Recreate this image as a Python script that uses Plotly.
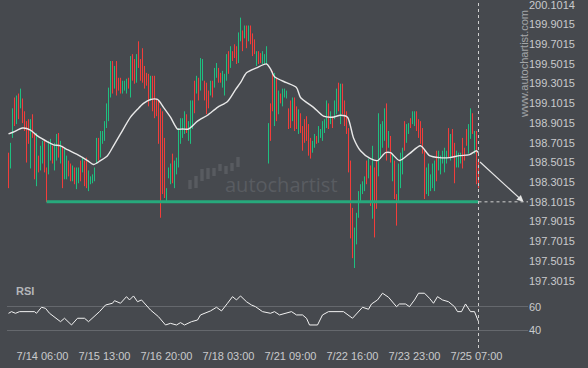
import plotly.graph_objects as go

# ---------------- data ----------------
tick_idx = [17, 48, 79, 110, 141, 172, 203, 234]
tick_labels = ["7/14 06:00", "7/15 13:00", "7/16 20:00", "7/18 03:00",
               "7/21 09:00", "7/22 16:00", "7/23 23:00", "7/25 07:00"]

price_ticks = [200.1014, 199.9015, 199.7015, 199.5015, 199.3015, 199.1015,
               198.9015, 198.7015, 198.5015, 198.3015, 198.1015, 197.9015,
               197.7015, 197.5015, 197.3015]
price_labels = ["200.1014", "199.9015", "199.7015", "199.5015", "199.3015",
                "199.1015", "198.9015", "198.7015", "198.5015", "198.3015",
                "198.1015", "197.9015", "197.7015", "197.5015", "197.3015"]

highs = [
    198.60, 198.70, 199.05, 199.16, 199.18, 199.20, 199.25, 199.15, 199.02, 198.92,
    198.94, 198.94, 198.99, 198.80, 198.80, 198.57, 198.67, 198.72, 198.72, 198.45,
    198.72, 198.74, 198.67, 198.70, 198.79, 198.80, 198.72, 198.67, 198.64, 198.57,
    198.52, 198.49, 198.47, 198.45, 198.45, 198.45, 198.52, 198.55, 198.52, 198.55,
    198.42, 198.36, 198.38, 198.45, 198.75, 198.75, 198.82, 198.82, 198.92, 199.10,
    199.26, 199.53, 199.53, 199.48, 199.53, 199.36, 199.36, 199.33, 199.33, 199.35,
    199.36, 199.58, 199.60, 199.55, 199.60, 199.73, 199.55, 199.66, 199.48, 199.41,
    199.40, 199.38, 199.38, 199.38, 199.15, 199.13, 199.05, 199.02, 198.75, 198.24,
    198.45, 198.49, 198.59, 198.52, 198.55, 198.85, 198.95, 198.95, 199.02, 198.99,
    198.92, 199.13, 199.13, 199.33, 199.38, 199.36, 199.56, 199.55, 199.33, 199.31,
    199.23, 199.33, 199.33, 199.46, 199.51, 199.46, 199.41, 199.43, 199.40, 199.60,
    199.63, 199.68, 199.63, 199.70, 199.68, 199.82, 199.97, 199.84, 199.89, 199.89,
    199.89, 199.89, 199.81, 199.75, 199.63, 199.63, 199.61, 199.63, 199.60, 199.68,
    198.90, 199.10, 199.43, 199.41, 199.36, 199.23, 199.20, 199.25, 199.25, 199.23,
    199.05, 199.13, 199.16, 199.16, 199.07, 199.04, 199.00, 198.87, 198.94, 198.97,
    198.89, 198.75, 198.72, 198.79, 198.77, 198.87, 198.84, 198.92, 198.94, 199.13,
    199.10, 199.02, 198.97, 199.13, 199.25, 199.31, 199.30, 199.30, 199.13, 199.02,
    198.85, 198.52, 198.04, 197.84, 197.99, 198.21, 198.28, 198.31, 198.36, 198.52,
    198.54, 198.47, 198.67, 198.45, 198.52, 199.00, 198.89, 198.92, 199.05, 199.10,
    198.82, 198.77, 198.59, 198.52, 198.18, 198.49, 198.60, 198.65, 198.92, 198.89,
    198.90, 198.95, 199.02, 199.02, 199.02, 198.94, 198.92, 198.85, 198.62, 198.45,
    198.49, 198.38, 198.49, 198.52, 198.62, 198.62, 198.57, 198.62, 198.65, 198.62,
    198.85, 198.79, 198.84, 198.70, 198.62, 198.60, 198.60, 198.75, 198.65, 198.84,
    198.89, 199.05, 199.00, 198.82, 198.82, 198.54]

lows = [
    198.24, 198.44, 198.75, 198.87, 198.89, 198.94, 199.05, 198.90, 198.82, 198.50,
    198.69, 198.44, 198.75, 198.33, 198.26, 198.40, 198.42, 198.49, 198.40, 198.10,
    198.38, 198.52, 198.49, 198.42, 198.52, 198.55, 198.49, 198.24, 198.33, 198.33,
    198.36, 198.31, 198.31, 198.28, 198.23, 198.29, 198.31, 198.40, 198.26, 198.24,
    198.21, 198.28, 198.29, 198.31, 198.49, 198.52, 198.55, 198.69, 198.72, 198.85,
    198.92, 199.16, 199.20, 199.25, 199.18, 199.23, 199.20, 199.20, 199.23, 199.20,
    199.25, 199.16, 199.33, 199.30, 199.31, 199.46, 199.33, 199.31, 199.25, 199.28,
    199.07, 199.13, 199.02, 198.95, 198.97, 198.69, 197.94, 198.18, 198.14, 198.11,
    198.34, 198.28, 198.29, 198.24, 198.38, 198.45, 198.69, 198.75, 198.79, 198.80,
    198.72, 198.69, 198.84, 199.00, 199.20, 199.13, 199.23, 199.33, 199.13, 198.99,
    199.05, 199.18, 199.16, 199.26, 199.36, 199.31, 199.31, 199.26, 199.18, 199.33,
    199.40, 199.46, 199.53, 199.56, 199.50, 199.51, 199.73, 199.63, 199.76, 199.66,
    199.73, 199.70, 199.58, 199.60, 199.48, 199.50, 199.51, 199.50, 199.50, 199.50,
    198.49, 198.72, 199.02, 198.87, 198.92, 198.99, 199.10, 199.07, 199.16, 199.15,
    198.84, 198.85, 198.92, 198.82, 198.84, 198.79, 198.80, 198.62, 198.70, 198.72,
    198.57, 198.54, 198.60, 198.65, 198.69, 198.70, 198.75, 198.72, 198.80, 198.85,
    198.84, 198.89, 198.85, 198.94, 198.99, 199.02, 198.89, 198.99, 198.87, 198.79,
    198.40, 197.73, 197.53, 197.43, 197.67, 197.94, 198.11, 198.18, 198.21, 198.28,
    198.34, 198.06, 197.93, 197.74, 198.03, 198.36, 198.54, 198.65, 198.72, 198.52,
    198.65, 198.50, 198.31, 198.13, 197.86, 198.11, 198.24, 198.38, 198.62, 198.70,
    198.79, 198.85, 198.89, 198.87, 198.82, 198.75, 198.69, 198.59, 198.13, 198.18,
    198.16, 198.21, 198.24, 198.21, 198.31, 198.42, 198.38, 198.49, 198.40, 198.49,
    198.55, 198.52, 198.55, 198.29, 198.45, 198.45, 198.49, 198.44, 198.52, 198.67,
    198.59, 198.74, 198.79, 198.59, 198.28, 198.24]

up = [
    0, 1, 1, 0, 1, 0, 1, 0, 0, 0,
    0, 1, 0, 0, 1, 0, 1, 1, 0, 0,
    1, 1, 0, 1, 1, 0, 1, 0, 1, 1,
    0, 0, 1, 0, 1, 1, 0, 1, 0, 0,
    1, 1, 1, 1, 1, 0, 1, 1, 1, 1,
    1, 1, 0, 1, 0, 0, 0, 1, 1, 1,
    0, 1, 0, 0, 1, 0, 0, 0, 0, 0,
    0, 1, 0, 0, 0, 0, 0, 0, 0, 1,
    1, 1, 0, 1, 1, 1, 1, 1, 1, 0,
    1, 1, 1, 0, 1, 0, 1, 1, 0, 0,
    0, 1, 0, 1, 1, 0, 0, 1, 1, 1,
    0, 1, 0, 0, 0, 1, 1, 0, 1, 0,
    1, 0, 0, 0, 1, 0, 0, 1, 1, 1,
    1, 0, 0, 1, 0, 1, 0, 1, 1, 1,
    0, 0, 1, 0, 0, 1, 0, 0, 0, 0,
    0, 0, 1, 1, 0, 1, 1, 1, 1, 1,
    0, 1, 0, 1, 1, 0, 1, 0, 0, 0,
    0, 0, 0, 1, 1, 1, 1, 1, 1, 0,
    1, 0, 1, 0, 0, 1, 1, 1, 1, 0,
    1, 0, 1, 0, 0, 1, 1, 1, 0, 1,
    1, 0, 1, 1, 0, 0, 0, 0, 0, 1,
    1, 1, 1, 1, 0, 1, 1, 1, 1, 1,
    0, 1, 0, 0, 1, 1, 1, 0, 0, 0,
    1, 1, 0, 1, 0, 0]

ma_idx = [0, 2.5, 7, 11, 14.5, 19.5, 22.5, 26, 29.5, 34.5, 39.5, 42.5, 46, 49.5,
          52.5, 56, 61, 64.5, 67.5, 71, 74.5, 77.5, 81, 84.5, 87, 90, 94.5, 99.5,
          104.5, 109.5, 113.5, 116, 119, 124, 129, 131, 133, 139, 144, 146, 152.5,
          157.5, 162, 166, 169.5, 172.5, 176, 181, 184.5, 188.5, 191, 195.5, 200.5,
          206, 210.5, 215.5, 220.5, 225.5, 230.5, 234, 235]
ma_val = [198.79, 198.81, 198.85, 198.83, 198.77, 198.71, 198.68, 198.67, 198.63,
          198.58, 198.52, 198.48, 198.52, 198.57, 198.67, 198.79, 198.96, 199.04,
          199.10, 199.14, 199.14, 199.06, 198.96, 198.84, 198.84, 198.84, 198.92,
          198.98, 199.06, 199.12, 199.24, 199.31, 199.41, 199.46, 199.50, 199.45,
          199.37, 199.31, 199.26, 199.16, 199.06, 198.97, 198.96, 198.98, 198.96,
          198.75, 198.62, 198.54, 198.52, 198.60, 198.60, 198.52, 198.59, 198.67,
          198.57, 198.55, 198.55, 198.57, 198.58, 198.62, 198.60]

rsi_idx = [0, 1.5, 3.5, 5.5, 13, 14, 16.5, 18.5, 20.5, 24, 26, 28, 30, 31.5, 34.5,
           38, 40, 43, 45.5, 48.5, 52, 53, 56, 59, 60.5, 62.5, 64.5, 66.5, 69, 71,
           75, 78.5, 81, 84, 86, 88, 91.5, 94.5, 96, 98, 101, 104, 106.5, 109.5,
           112, 114, 116, 119, 121.5, 123.5, 127, 131, 133, 135.5, 138.5, 141.5,
           144, 147, 149, 150.5, 154.5, 157, 160, 163, 167.5, 172, 175, 177, 180,
           181.5, 184.5, 187, 190, 194, 195.5, 198.5, 200.5, 203, 205, 208, 210.5,
           212.5, 214.5, 217, 220, 223, 224.5, 226.5, 228.5, 231, 233, 235]
rsi_val = [54.4, 55.8, 54.4, 55.8, 55.8, 54.4, 59.5, 58.6, 54.4, 50.2, 47.3, 50.2,
           47.3, 44.5, 50.2, 50.2, 47.3, 51.5, 55.8, 61.4, 62.9, 65.1, 62.9, 68.5,
           65.7, 69.1, 64.2, 65.7, 61.4, 57.2, 51.5, 44.5, 45.9, 44.5, 46.5, 44.5,
           47.3, 48.7, 53.0, 54.4, 56.4, 59.5, 56.4, 62.9, 68.5, 65.7, 69.1, 64.2,
           61.4, 60.0, 55.8, 54.4, 55.8, 53.0, 54.4, 55.8, 53.0, 53.0, 50.2, 44.5,
           44.5, 53.0, 55.8, 55.8, 55.8, 50.2, 55.8, 59.5, 57.8, 62.3, 65.7, 71.4,
           68.0, 60.0, 62.3, 62.3, 60.0, 65.7, 71.4, 71.4, 67.1, 62.9, 68.5, 65.7,
           64.2, 60.0, 55.8, 55.8, 62.3, 55.8, 55.8, 47.3]

support_level = 198.1015
support_start = 19
now_idx = 235
forecast_end = 257.5
forecast_from = 198.52

rsi_ticks = [40, 60]

# ---------------- style ----------------
BG = "#46494e"
TXT = "#c9cacc"
GREEN = "#1fbf80"
RED = "#f23d3a"
FONT = "Liberation Sans, Arial, sans-serif"
W, H = 588, 368
ML, MR, MT, MB = 7, 60, 0, 20
PW, PH = W - ML - MR, H - MT - MB


def px(x):
    return (x - ML) / PW


def py(y):
    return (PH - y) / PH


fig = go.Figure()

for flag, col in ((1, GREEN), (0, RED)):
    xs, ys = [], []
    for i, (h, l, u) in enumerate(zip(highs, lows, up)):
        if u == flag:
            xs += [i, i, None]
            ys += [l, h, None]
    fig.add_trace(go.Scatter(x=xs, y=ys, mode="lines", yaxis="y",
                             line=dict(color=col, width=1), hoverinfo="skip"))

fig.add_trace(go.Scatter(x=ma_idx, y=ma_val, mode="lines", yaxis="y",
                         line=dict(color="#e8e8e8", width=1.4, shape="spline", smoothing=0.7),
                         hoverinfo="skip"))

fig.add_trace(go.Scatter(x=[support_start, now_idx], y=[support_level, support_level],
                         mode="lines", yaxis="y", line=dict(color="#27a97c", width=3),
                         hoverinfo="skip"))
fig.add_trace(go.Scatter(x=[now_idx, 262], y=[support_level, support_level],
                         mode="lines", yaxis="y",
                         line=dict(color="#d0d0d0", width=1, dash="3px,3px"),
                         hoverinfo="skip"))

fig.add_trace(go.Scatter(x=rsi_idx, y=rsi_val, mode="lines", yaxis="y2",
                         line=dict(color="#f2f2f2", width=1), hoverinfo="skip"))

shapes = [dict(type="line", xref="x", yref="paper", x0=now_idx, x1=now_idx, y0=0, y1=1,
               line=dict(color="#d0d0d0", width=1, dash="3px,3px"))]

# faint logo bars of the central watermark
logo = [(190, 180, 189), (196, 176, 188), (202, 169, 181), (208, 168, 179),
        (214, 168, 176), (220, 164, 171), (226, 166, 174), (232, 163, 171),
        (238, 157, 167)]
for cx, t, b in logo:
    shapes.append(dict(type="rect", xref="paper", yref="paper",
                       x0=px(cx - 1.7), x1=px(cx + 1.7), y0=py(b), y1=py(t),
                       fillcolor="#585b60", line=dict(width=0), layer="below"))

annotations = [
    dict(x=forecast_end, y=support_level, ax=now_idx, ay=forecast_from,
         xref="x", yref="y", axref="x", ayref="y", text="", showarrow=True,
         arrowhead=2, arrowsize=1.1, arrowwidth=1.2, arrowcolor="#e6e6e6"),
    dict(x=px(14), y=py(291), xref="paper", yref="paper", text="<b>RSI</b>",
         showarrow=False, xanchor="left", yanchor="middle",
         font=dict(family=FONT, size=11, color="#b4b6b9")),
    dict(x=px(524), y=py(64), xref="paper", yref="paper", text="www.autochartist.com",
         showarrow=False, textangle=-90, xanchor="center", yanchor="middle",
         font=dict(family=FONT, size=11, color="#a3a5a8")),
    dict(x=px(281), y=py(185), xref="paper", yref="paper", text="autochartist",
         showarrow=False, xanchor="center", yanchor="middle",
         font=dict(family="Open Sans, sans-serif", size=20, color="#595c61")),
]

fig.update_layout(
    width=W, height=H, margin=dict(l=ML, r=MR, t=MT, b=MB),
    paper_bgcolor=BG, plot_bgcolor=BG, showlegend=False,
    font=dict(family=FONT, size=11, color=TXT),
    xaxis=dict(range=[-0.75, -0.75 + PW / 2.0], anchor="y2", tickvals=tick_idx,
               ticktext=tick_labels, showgrid=False, zeroline=False, showline=False,
               ticks="", tickfont=dict(size=11, color=TXT, family=FONT)),
    yaxis=dict(domain=[58 / PH, 1], range=[197.207, 200.149], side="right", anchor="x",
               tickvals=price_ticks, ticktext=price_labels, showgrid=False,
               zeroline=False, showline=False, ticks="", ticklabeloverflow="allow",
               tickfont=dict(size=11, color=TXT, family=FONT)),
    yaxis2=dict(domain=[0, 68 / PH], range=[25.0, 82.6], side="right", anchor="x",
                tickvals=rsi_ticks, ticktext=[str(v) for v in rsi_ticks],
                showgrid=True, gridcolor="#65686d", gridwidth=1, zeroline=False,
                showline=False, ticks="", tickfont=dict(size=11, color=TXT, family=FONT)),
    shapes=shapes, annotations=annotations,
)

fig.write_html("out.html")
